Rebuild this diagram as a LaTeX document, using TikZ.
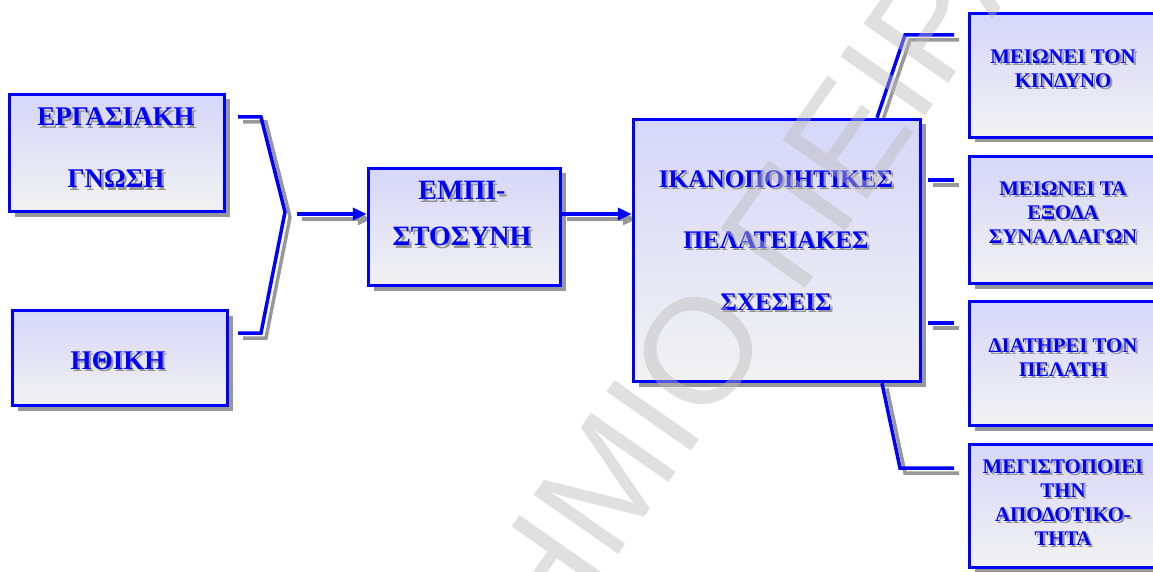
\documentclass[tikz,border=0pt]{standalone}
\usepackage{fontspec}
\setmainfont{Liberation Serif}
\newfontfamily\wmfont{Liberation Sans}
\usetikzlibrary{arrows.meta,shadows}

\definecolor{lineblue}{RGB}{0,0,255}
\definecolor{shadegray}{RGB}{152,152,152}
\definecolor{boxtop}{RGB}{214,214,250}
\definecolor{boxbottom}{RGB}{242,242,242}
\definecolor{txtshade}{RGB}{150,150,150}
\definecolor{wmgray}{RGB}{187,187,187}

% text with a small grey shadow to the lower right
\newcommand\shd[1]{\rlap{\hspace{2.2pt}\raisebox{-2.2pt}{\textcolor{txtshade}{#1}}}#1}

\pgfdeclarelayer{shadowlayer}
\pgfsetlayers{shadowlayer,main}

% a connector with its grey shadow, offset down and to the right
\newcommand\connector[2][]{%
  \begin{pgfonlayer}{shadowlayer}
    \begin{scope}[transform canvas={shift={(5pt,-5pt)}}]
      \draw[connshade,#1] #2;
    \end{scope}
  \end{pgfonlayer}
  \draw[conn,#1] #2;}

\tikzset{
  box/.style={draw=lineblue, line width=3.5pt, top color=boxtop, bottom color=boxbottom,
    inner sep=0pt,
    drop shadow={shadow xshift=5pt, shadow yshift=-5pt, fill=shadegray, opacity=1}},
  conn/.style={draw=lineblue, line width=3.5pt},
  connshade/.style={draw=shadegray, line width=3.5pt},
  tip/.style={-{Triangle[length=14pt,width=12pt]}},
  bigtext/.style={text=lineblue, align=center, inner sep=0pt,
    font=\bfseries\fontsize{27}{62}\selectfont},
  smalltext/.style={text=lineblue, align=center, inner sep=0pt,
    font=\bfseries\fontsize{20.8}{24}\selectfont},
  watermark/.style={text=wmgray, text opacity=0.45, inner sep=0pt,
    font=\wmfont\fontsize{150}{150}\selectfont}
}

\begin{document}
\begin{tikzpicture}[x=1pt,y=-1pt]
\useasboundingbox (0,0) rectangle (1153,572);
\clip (0,0) rectangle (1153,572);

% boxes
\node[box, minimum width=215pt, minimum height=117pt] (gnosi) at (117,153) {};
\node[box, minimum width=215pt, minimum height=95pt] (ithiki) at (120,358) {};
\node[box, minimum width=192pt, minimum height=117pt] (empist) at (464.5,227) {};
\node[box, minimum width=287pt, minimum height=262pt] (sxeseis) at (777,250.5) {};
\node[box, minimum width=185pt, minimum height=124pt] (kindyno) at (1062,75.5) {};
\node[box, minimum width=185pt, minimum height=127pt] (exoda) at (1062,220) {};
\node[box, minimum width=185pt, minimum height=124pt] (pelatis) at (1062,363.5) {};
\node[box, minimum width=185pt, minimum height=123pt] (apodosi) at (1062,506) {};

% texts
\node[bigtext] (tgnosi) at (116,149) {\shd{ΕΡΓΑΣΙΑΚΗ}\\\shd{ΓΝΩΣΗ}};
\node[bigtext] (tithiki) at (118,362) {\shd{ΗΘΙΚΗ}};
\node[bigtext, font=\bfseries\fontsize{28}{46}\selectfont] (tempist) at (462,215)
  {\shd{ΕΜΠΙ-}\\\shd{ΣΤΟΣΥΝΗ}};
\node[bigtext, font=\bfseries\fontsize{25.3}{61.5}\selectfont] (tsxeseis) at (776,241.5)
  {\shd{ΙΚΑΝΟΠΟΙΗΤΙΚΕΣ}\\\shd{ΠΕΛΑΤΕΙΑΚΕΣ}\\\shd{ΣΧΕΣΕΙΣ}};
\node[smalltext] (tkindyno) at (1063,70) {\shd{ΜΕΙΩΝΕΙ ΤΟΝ}\\\shd{ΚΙΝΔΥΝΟ}};
\node[smalltext] (texoda) at (1063,214) {\shd{ΜΕΙΩΝΕΙ ΤΑ}\\\shd{ΕΞΟΔΑ}\\\shd{ΣΥΝΑΛΛΑΓΩΝ}};
\node[smalltext] (tpelatis) at (1063,358.5) {\shd{ΔΙΑΤΗΡΕΙ ΤΟΝ}\\\shd{ΠΕΛΑΤΗ}};
\node[smalltext] (tapodosi) at (1063,503.5)
  {\shd{ΜΕΓΙΣΤΟΠΟΙΕΙ}\\\shd{ΤΗΝ}\\\shd{ΑΠΟΔΟΤΙΚΟ-}\\\shd{ΤΗΤΑ}};

% bracket joining the two inputs
\coordinate (bt) at (238,117);
\coordinate (bb) at (238,333);
\coordinate (join) at (285,212);
\coordinate (a1) at (297,214);
\connector{(bt) -- (261,117) -- (join) -- (261,333) -- (bb)}

% arrows along the chain
\connector[tip]{(a1) -- (a1 -| empist.west)}
\connector[tip]{(a1 -| empist.east) -- (a1 -| sxeseis.west)}

% branches to the outcomes
\coordinate (e1) at (954,35);
\coordinate (e2) at (954,180);
\coordinate (e3) at (954,323);
\coordinate (e4) at (954,468);
\connector{([xshift=100pt]sxeseis.north) -- (905,35) -- (e1)}
\connector{(928,180) -- (e2)}
\connector{(928,323) -- (e3)}
\connector{([xshift=105pt]sxeseis.south) -- (900,468) -- (e4)}

% watermark across the page
\node[watermark, rotate=55] (wm) at (613,473) {ΠΑΝΕΠΙΣΤΗΜΙΟ ΠΕΙΡΑΙΩΣ};
\end{tikzpicture}
\end{document}
